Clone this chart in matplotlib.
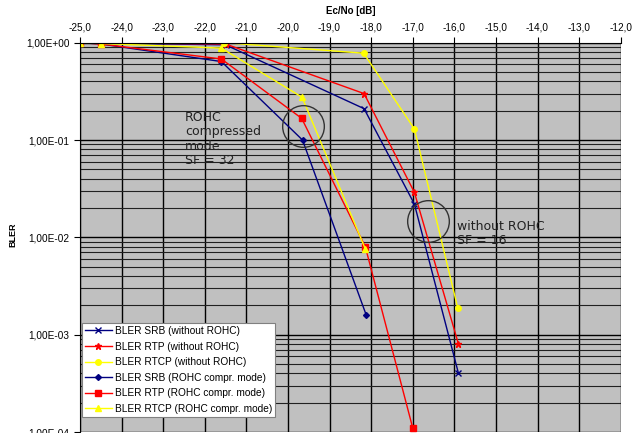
import matplotlib
matplotlib.use('Agg')
import matplotlib.pyplot as plt
from matplotlib.ticker import LogLocator, FuncFormatter, MultipleLocator, NullFormatter

# Ec/No [dB] and BLER
srb_x = [-25.0, -21.5, -18.17, -16.96, -15.9]
srb_y = [1.0, 0.95, 0.21, 0.022, 4.0e-4]
rtp_x = [-25.0, -21.5, -18.17, -16.96, -15.9]
rtp_y = [1.0, 0.97, 0.30, 0.029, 8.0e-4]
rtcp_x = [-25.0, -21.53, -18.18, -16.96, -15.92]
rtcp_y = [1.0, 1.0, 0.78, 0.13, 1.9e-3]

srb_c_x = [-25.0, -24.5, -21.6, -19.65, -18.12]
srb_c_y = [1.0, 0.97, 0.64, 0.10, 1.6e-3]
rtp_c_x = [-25.0, -24.5, -21.6, -19.67, -18.14, -17.0]
rtp_c_y = [1.0, 0.97, 0.68, 0.167, 8.0e-3, 1.1e-4]
rtcp_c_x = [-25.0, -24.49, -21.6, -19.66, -18.14]
rtcp_c_y = [1.0, 0.98, 0.88, 0.275, 7.6e-3]

labels = ['BLER SRB (without ROHC)', 'BLER RTP (without ROHC)', 'BLER RTCP (without ROHC)',
          'BLER SRB (ROHC compr. mode)', 'BLER RTP (ROHC compr. mode)', 'BLER RTCP (ROHC compr. mode)']

circle_x = [-19.63, -16.63]
circle_y = [0.139, 0.0146]

fig = plt.figure(figsize=(6.43, 4.33), dpi=100)
ax = fig.add_axes([0.1244, 0.0023, 0.8409, 0.8991])
ax.set_facecolor('#C0C0C0')

navy = '#000080'
red = '#FF0000'
yellow = '#FFFF00'

ax.plot(srb_x, srb_y, color=navy, lw=1, marker='x', ms=4, mew=1, label=labels[0])
ax.plot(rtp_x, rtp_y, color=red, lw=1, marker='*', ms=5, label=labels[1])
ax.plot(rtcp_x, rtcp_y, color=yellow, lw=1, marker='o', ms=4, label=labels[2])
ax.plot(srb_c_x, srb_c_y, color=navy, lw=1, marker='D', ms=3, label=labels[3])
ax.plot(rtp_c_x, rtp_c_y, color=red, lw=1, marker='s', ms=5, label=labels[4])
ax.plot(rtcp_c_x, rtcp_c_y, color=yellow, lw=1, marker='^', ms=5, label=labels[5])

# circles round the operating points
ax.plot(circle_x, circle_y, ls='none', marker='o', ms=30, mfc='none', mec='#333333', mew=1)

ax.text(-22.48, 0.199, 'ROHC\ncompressed\nmode\nSF = 32', fontsize=9, color='#222222',
        va='top', ha='left', linespacing=1.15)
ax.text(-15.93, 0.0151, 'without ROHC\nSF = 16', fontsize=9, color='#222222',
        va='top', ha='left', linespacing=1.15)

ax.set_yscale('log')
ax.set_xlim(-25, -12)
ax.set_ylim(1e-4, 1)

ax.xaxis.set_major_locator(MultipleLocator(1))
ax.xaxis.set_major_formatter(FuncFormatter(lambda v, p: f"{v:.1f}".replace('.', ',')))
ax.xaxis.tick_top()
ax.xaxis.set_label_position('top')
ax.yaxis.set_major_locator(LogLocator(base=10, numticks=10))
ax.yaxis.set_minor_locator(LogLocator(base=10, subs=range(2, 10), numticks=20))
ax.yaxis.set_major_formatter(FuncFormatter(lambda v, p: f"{v:.2E}".replace('.', ',')))
ax.yaxis.set_minor_formatter(NullFormatter())

ax.tick_params(axis='both', which='major', labelsize=7.2, direction='out', length=4,
               width=0.8, colors='black')
ax.tick_params(axis='y', which='minor', length=0)
for lab in ax.get_xticklabels() + ax.get_yticklabels():
    lab.set_fontfamily('Liberation Sans')

ax.grid(True, which='major', axis='both', color='black', lw=1)
ax.grid(True, which='minor', axis='y', color='#202020', lw=0.8)
ax.set_axisbelow(True)

for side in ['right', 'bottom']:
    ax.spines[side].set_visible(False)
ax.spines['left'].set_linewidth(0.8)
ax.spines['top'].set_linewidth(0.8)

ax.set_xlabel('Ec/No [dB]', fontsize=7, fontweight='bold', family='Liberation Sans', labelpad=6)
ax.set_ylabel('BLER', fontsize=6.5, fontweight='bold', family='Liberation Sans')
ax.yaxis.set_label_coords(-0.1165, 0.506)

leg = ax.legend(loc='upper left', bbox_to_anchor=(0.004, 0.28), fancybox=False, framealpha=1,
                edgecolor='#808080', prop={'family': 'Liberation Sans', 'size': 7.3},
                handlelength=2.6, handletextpad=0.3, labelspacing=0.55, borderpad=0.3,
                borderaxespad=0)
leg.get_frame().set_linewidth(0.8)

fig.savefig('out.png', dpi=100)
